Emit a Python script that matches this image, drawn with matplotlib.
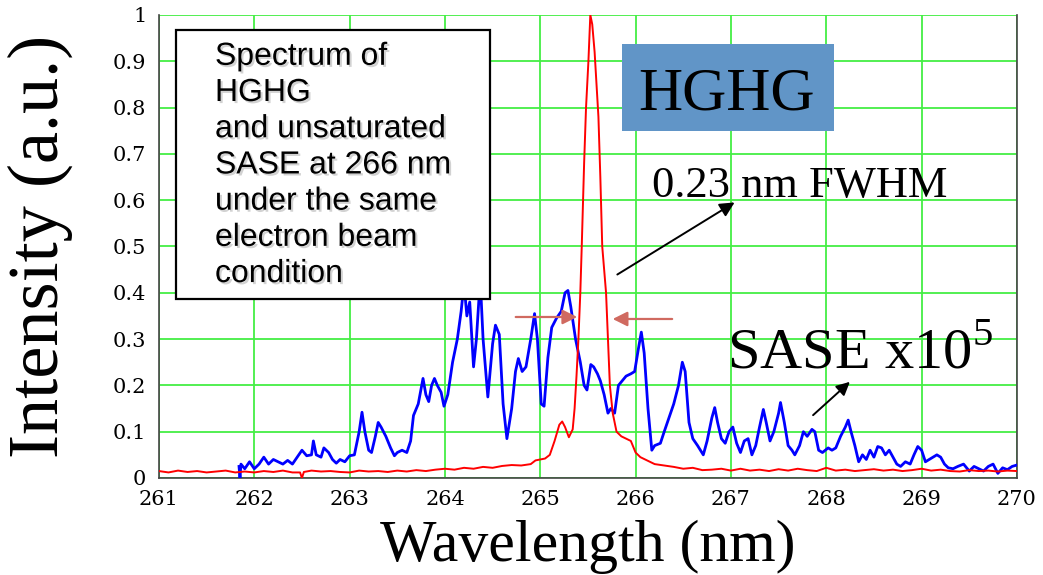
import numpy as np
import matplotlib.pyplot as plt
from matplotlib.patches import Rectangle
import matplotlib.patheffects as pe

plt.rcParams['mathtext.fontset'] = 'custom'
plt.rcParams['mathtext.rm'] = 'Liberation Serif'

# SASE spectrum (x1e5)
sase_wl = [261.84, 261.85, 261.86, 261.9, 261.95, 262.0, 262.05, 262.1, 262.15, 262.2,
           262.25, 262.3, 262.35, 262.4, 262.45, 262.5, 262.55, 262.6, 262.62, 262.65,
           262.7, 262.73, 262.78, 262.82, 262.86, 262.9, 262.95, 263.0, 263.05, 263.1,
           263.13, 263.16, 263.2, 263.23, 263.27, 263.3, 263.33, 263.38, 263.43, 263.47,
           263.5, 263.55, 263.6, 263.64, 263.67, 263.72, 263.77, 263.8, 263.83, 263.86,
           263.89, 263.92, 263.96, 263.99, 264.03, 264.08, 264.13, 264.17, 264.2, 264.23,
           264.26, 264.3, 264.33, 264.37, 264.4, 264.45, 264.5, 264.53, 264.57, 264.61,
           264.65, 264.7, 264.74, 264.77, 264.81, 264.85, 264.9, 264.94, 264.97, 265.01,
           265.04, 265.08, 265.12, 265.17, 265.22, 265.26, 265.29, 265.32, 265.37, 265.42,
           265.46, 265.49, 265.53, 265.56, 265.6, 265.63, 265.67, 265.71, 265.74, 265.78,
           265.82, 265.86, 265.9, 265.95, 265.99, 266.03, 266.06, 266.09, 266.13, 266.17,
           266.2, 266.26, 266.3, 266.35, 266.4, 266.45, 266.49, 266.52, 266.56, 266.6,
           266.65, 266.71, 266.75, 266.8, 266.83, 266.86, 266.9, 266.94, 266.98, 267.02,
           267.06, 267.1, 267.14, 267.18, 267.22, 267.26, 267.3, 267.34, 267.37, 267.41,
           267.45, 267.5, 267.52, 267.56, 267.6, 267.64, 267.67, 267.72, 267.76, 267.8,
           267.85, 267.88, 267.92, 267.96, 268.02, 268.06, 268.1, 268.15, 268.2, 268.23,
           268.26, 268.3, 268.34, 268.38, 268.42, 268.46, 268.5, 268.54, 268.58, 268.62,
           268.66, 268.7, 268.74, 268.78, 268.83, 268.88, 268.92, 268.96, 269.0, 269.04,
           269.08, 269.12, 269.16, 269.2, 269.24, 269.28, 269.33, 269.38, 269.44, 269.5,
           269.55, 269.6, 269.65, 269.7, 269.75, 269.8, 269.85, 269.9, 269.95, 270.0]
sase_int = [0.025, 0.0, 0.03, 0.02, 0.035, 0.02, 0.03, 0.045, 0.03, 0.04,
            0.035, 0.03, 0.038, 0.03, 0.045, 0.06, 0.048, 0.05, 0.08, 0.05,
            0.045, 0.065, 0.055, 0.04, 0.032, 0.04, 0.035, 0.048, 0.05, 0.1,
            0.142, 0.1, 0.06, 0.055, 0.09, 0.12, 0.11, 0.09, 0.065, 0.048,
            0.055, 0.06, 0.055, 0.08, 0.135, 0.16, 0.215, 0.18, 0.165, 0.2,
            0.215, 0.2, 0.185, 0.155, 0.18, 0.25, 0.3, 0.36, 0.42, 0.35,
            0.38, 0.24, 0.3, 0.43, 0.3, 0.175, 0.29, 0.33, 0.31, 0.16,
            0.085, 0.15, 0.23, 0.258, 0.23, 0.24, 0.3, 0.355, 0.3, 0.16,
            0.155, 0.26, 0.325, 0.345, 0.36, 0.4, 0.405, 0.37, 0.3, 0.25,
            0.2, 0.19, 0.245, 0.24, 0.225, 0.21, 0.18, 0.14, 0.15, 0.14,
            0.2, 0.21, 0.22, 0.225, 0.23, 0.28, 0.315, 0.27, 0.15, 0.06,
            0.07, 0.075, 0.1, 0.13, 0.16, 0.2, 0.25, 0.23, 0.12, 0.085,
            0.07, 0.05, 0.08, 0.13, 0.152, 0.12, 0.085, 0.075, 0.1, 0.11,
            0.075, 0.055, 0.08, 0.085, 0.05, 0.07, 0.11, 0.148, 0.12, 0.08,
            0.1, 0.14, 0.163, 0.12, 0.07, 0.06, 0.05, 0.07, 0.1, 0.09,
            0.105, 0.1, 0.06, 0.055, 0.065, 0.06, 0.065, 0.09, 0.11, 0.125,
            0.1, 0.07, 0.035, 0.05, 0.04, 0.06, 0.045, 0.068, 0.065, 0.05,
            0.06, 0.045, 0.03, 0.025, 0.035, 0.03, 0.05, 0.068, 0.06, 0.035,
            0.04, 0.045, 0.05, 0.045, 0.03, 0.022, 0.02, 0.025, 0.03, 0.015,
            0.025, 0.02, 0.015, 0.025, 0.03, 0.01, 0.022, 0.018, 0.025, 0.028]

# HGHG spectrum (normalised)
hghg_wl = [261.0, 261.1, 261.2, 261.3, 261.4, 261.5, 261.6, 261.7, 261.8, 261.9,
           262.0, 262.1, 262.2, 262.3, 262.4, 262.48, 262.5, 262.52, 262.6, 262.7,
           262.8, 262.9, 263.0, 263.1, 263.2, 263.3, 263.4, 263.5, 263.6, 263.7,
           263.8, 263.9, 264.0, 264.1, 264.2, 264.3, 264.4, 264.5, 264.6, 264.7,
           264.8, 264.9, 264.95, 265.0, 265.05, 265.1, 265.15, 265.2, 265.23, 265.26,
           265.3, 265.34, 265.36, 265.38, 265.4, 265.42, 265.435, 265.46, 265.48, 265.505,
           265.525, 265.545, 265.57, 265.59, 265.61, 265.63, 265.65, 265.69, 265.71, 265.73,
           265.76, 265.8, 265.85, 265.9, 265.95, 266.0, 266.05, 266.1, 266.15, 266.2,
           266.3, 266.4, 266.5, 266.6, 266.7, 266.8, 266.9, 267.0, 267.1, 267.2,
           267.3, 267.4, 267.5, 267.6, 267.7, 267.8, 267.9, 268.0, 268.1, 268.2,
           268.3, 268.4, 268.5, 268.6, 268.7, 268.8, 268.9, 269.0, 269.1, 269.2,
           269.3, 269.4, 269.5, 269.6, 269.7, 269.8, 269.9, 270.0]
hghg_int = [0.015, 0.012, 0.016, 0.013, 0.015, 0.012, 0.014, 0.016, 0.012, 0.014,
            0.012, 0.015, 0.013, 0.016, 0.012, 0.012, 0.0, 0.013, 0.016, 0.014,
            0.015, 0.013, 0.012, 0.016, 0.014, 0.015, 0.013, 0.016, 0.014, 0.017,
            0.015, 0.018, 0.02, 0.018, 0.022, 0.02, 0.024, 0.022, 0.026, 0.028,
            0.027, 0.03, 0.038, 0.04, 0.042, 0.05, 0.08, 0.115, 0.122, 0.11,
            0.088, 0.105, 0.15, 0.22, 0.3, 0.4, 0.5, 0.68, 0.8, 0.9,
            1.0, 0.98, 0.92, 0.85, 0.78, 0.65, 0.5, 0.4, 0.3, 0.2,
            0.14, 0.1, 0.09, 0.085, 0.08, 0.055, 0.045, 0.04, 0.035, 0.03,
            0.027, 0.024, 0.02, 0.022, 0.017, 0.018, 0.02, 0.016, 0.02, 0.016,
            0.018, 0.015, 0.019, 0.016, 0.02, 0.017, 0.015, 0.022, 0.016, 0.018,
            0.015, 0.017, 0.019, 0.016, 0.018, 0.015, 0.017, 0.02, 0.016, 0.018,
            0.015, 0.014, 0.017, 0.015, 0.016, 0.014, 0.016, 0.015]

x_ticks = [261, 262, 263, 264, 265, 266, 267, 268, 269, 270]
y_ticks = [0, 0.1, 0.2, 0.3, 0.4, 0.5, 0.6, 0.7, 0.8, 0.9, 1]
y_tick_labels = ['0', '0.1', '0.2', '0.3', '0.4', '0.5', '0.6', '0.7', '0.8', '0.9', '1']

fig = plt.figure(figsize=(10.43, 5.75), dpi=100)
ax = fig.add_axes([0.1524, 0.1687, 0.8226, 0.8053])

ax.plot(sase_wl, sase_int, color='#0000ff', lw=2.0, zorder=3)
ax.plot(hghg_wl, hghg_int, color='#ff0000', lw=1.4, zorder=4)

ax.set_xlim(261, 270)
ax.set_ylim(0, 1)
ax.set_xticks(x_ticks)
ax.set_yticks(y_ticks)
ax.set_yticklabels(y_tick_labels)
ax.grid(True, color='#44ee44', lw=1.3, zorder=0)
ax.set_axisbelow(True)
ax.tick_params(length=0, pad=9, labelsize=15)
for lab in ax.get_xticklabels() + ax.get_yticklabels():
    lab.set_fontfamily('DejaVu Serif')

ax.spines['top'].set_visible(False)
for s in ['left', 'bottom', 'right']:
    ax.spines[s].set_color('#444444')
    ax.spines[s].set_linewidth(1.2)

ax.set_xlabel('Wavelength (nm)', fontsize=43, family='Liberation Serif')
ax.set_ylabel('Intensity (a.u.)', fontsize=52, family='Liberation Serif')
ax.xaxis.set_label_coords(0.5, -0.09)
ax.yaxis.set_label_coords(-0.1, 0.5)

# description box
ax.add_patch(Rectangle((0.0198, 0.3866), 0.366, 0.581, transform=ax.transAxes,
                       facecolor='white', edgecolor='black', lw=1.6, zorder=6))
ax.text(0.0653, 0.942,
        'Spectrum of\nHGHG\nand unsaturated\nSASE at 266 nm\nunder the same\nelectron beam\ncondition',
        transform=ax.transAxes, ha='left', va='top', fontsize=23,
        family='Liberation Sans', linespacing=1.27, zorder=7,
        path_effects=[pe.withSimplePatchShadow(offset=(1.5, -1.5), shadow_rgbFace='gray', alpha=0.35)])

# HGHG label
ax.add_patch(Rectangle((0.5396, 0.7495), 0.247, 0.188, transform=ax.transAxes,
                       facecolor='#6195c7', edgecolor='none', zorder=6))
ax.text(0.661, 0.795, 'HGHG', transform=ax.transAxes, ha='center', va='baseline',
        fontsize=44, family='Liberation Serif', zorder=7)

# FWHM annotation
ax.text(0.5746, 0.6076, '0.23 nm FWHM', transform=ax.transAxes, ha='left', va='baseline',
        fontsize=32, family='Liberation Serif', zorder=7)
ax.annotate('', xy=(0.6737, 0.5983), xytext=(0.5315, 0.4363), xycoords='axes fraction',
            arrowprops=dict(arrowstyle='-|>', color='black', lw=1.4, mutation_scale=22), zorder=7)

# width arrows
ax.annotate('', xy=(0.4907, 0.3477), xytext=(0.4126, 0.3477), xycoords='axes fraction',
            arrowprops=dict(arrowstyle='-|>', color='#d06a60', lw=1.6, mutation_scale=22), zorder=7)
ax.annotate('', xy=(0.5256, 0.3434), xytext=(0.6014, 0.3434), xycoords='axes fraction',
            arrowprops=dict(arrowstyle='-|>', color='#d06a60', lw=1.6, mutation_scale=22), zorder=7)

# SASE label
ax.text(0.662, 0.2397, 'SASE x10$^{5}$', transform=ax.transAxes, ha='left', va='baseline',
        fontsize=42, family='Liberation Serif', zorder=7)
ax.annotate('', xy=(0.8077, 0.2117), xytext=(0.760, 0.1317), xycoords='axes fraction',
            arrowprops=dict(arrowstyle='-|>', color='black', lw=1.4, mutation_scale=20), zorder=7)

fig.savefig('out.png', dpi=100)
